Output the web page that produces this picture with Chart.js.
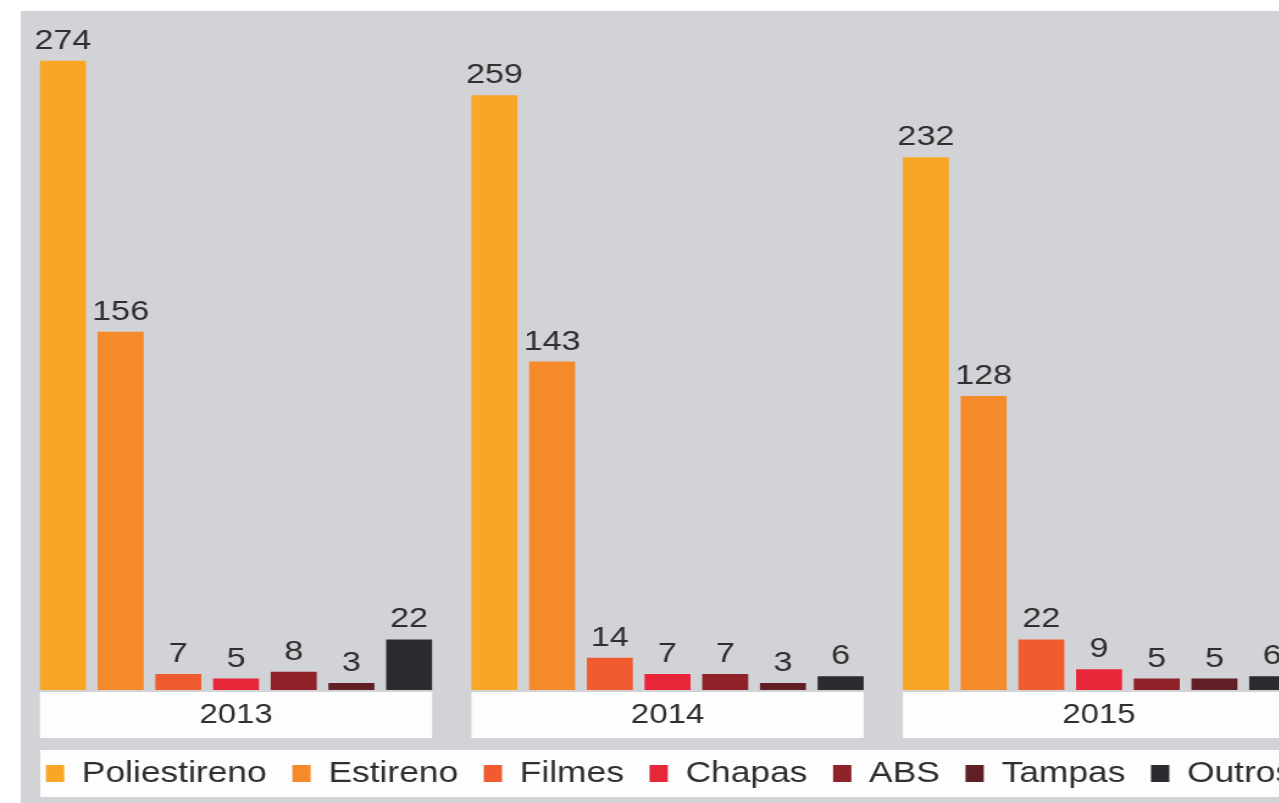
<!DOCTYPE html>
<html>
<head>
<meta charset="utf-8">
<script src="https://cdn.jsdelivr.net/npm/chart.js@4.4.1/dist/chart.umd.min.js"></script>
<style>
  html, body { margin: 0; padding: 0; background: #fff; overflow: hidden; }
  #wrap { width: 1279px; height: 803px; overflow: hidden; }
  /* the source picture is stretched sideways, so is the canvas */
  #chart { display: block; transform: scaleX(1.22); transform-origin: 0 0; }
</style>
</head>
<body>
<div id="wrap"><canvas id="chart" width="1140" height="803"></canvas></div>
<script>
const categories = ["2013", "2014", "2015"];
const seriesNames = ["Poliestireno", "Estireno", "Filmes", "Chapas", "ABS", "Tampas", "Outros"];

// values per year
const poliestireno = [274, 259, 232];
const estireno = [156, 143, 128];
const filmes = [7, 14, 22];
const chapas = [5, 7, 9];
const abs = [8, 7, 5];
const tampas = [3, 3, 5];
const outros = [22, 6, 6];

const seriesValues = [poliestireno, estireno, filmes, chapas, abs, tampas, outros];

const seriesColors = ["#f9a526", "#f58a2b", "#f05c2f", "#e8263a", "#8f2128", "#5f1f25", "#2d2a2f"];

const textColor = "#2f2f2f";
const fontFamily = "'Liberation Sans', Arial, sans-serif";

// Backdrop, year boxes and value labels
const decorations = {
    id: "decorations",
    beforeDraw(chart) {
        const { ctx, width, height, chartArea, legend } = chart;
        ctx.save();
        ctx.fillStyle = "#ffffff";
        ctx.fillRect(0, 0, width, height);
        ctx.fillStyle = "#d1d3d6";
        ctx.fillRect(17, 11, width - 17, height - 11);

        // legend strip
        ctx.fillStyle = "#fdfdfd";
        ctx.fillRect(33, legend.top + 12, width - 33, legend.bottom - legend.top - 13);

        // white box under every year group
        const first = chart.getDatasetMeta(0).data;
        const last = chart.getDatasetMeta(chart.data.datasets.length - 1).data;
        first.forEach((bar, i) => {
            const left = bar.x - bar.width / 2;
            const right = last[i].x + last[i].width / 2;
            ctx.fillRect(left, chartArea.bottom + 2, right - left, 46);
        });
        ctx.restore();
    },
    afterDatasetsDraw(chart) {
        const { ctx } = chart;
        ctx.save();
        ctx.fillStyle = textColor;
        ctx.font = "28px " + fontFamily;
        ctx.textAlign = "center";
        ctx.textBaseline = "alphabetic";
        chart.data.datasets.forEach((ds, d) => {
            chart.getDatasetMeta(d).data.forEach((bar, i) => {
                ctx.fillText(String(ds.data[i]), bar.x, bar.y - 12);
            });
        });
        ctx.restore();
    },
};

let myChart = new Chart(document.getElementById("chart"), {
    type: "bar",
    plugins: [decorations],
    data: {
        labels: categories,
        datasets: seriesNames.map((name, i) => ({
            label: name,
            data: seriesValues[i],
            backgroundColor: seriesColors[i],
            borderWidth: 0,
            categoryPercentage: 0.936,
            barPercentage: 0.797,
        })),
    },
    options: {
        responsive: false,
        animation: false,
        layout: {
            padding: { left: 16.6, right: 6, top: 24, bottom: 5 },
        },
        scales: {
            x: {
                grid: { display: false, drawTicks: false },
                border: { display: false },
                ticks: {
                    color: textColor,
                    font: { family: fontFamily, size: 27 },
                    padding: 9,
                },
                afterFit: (scale) => {
                    scale.height = 48;
                },
            },
            y: {
                position: "right",
                min: 0,
                max: 290,
                grid: { display: false, drawTicks: false },
                border: { display: false },
                ticks: { display: false },
                // empty strip past the cut-off right edge
                afterFit: (scale) => {
                    scale.width = 56.3;
                },
            },
        },
        plugins: {
            tooltip: { enabled: false },
            legend: {
                position: "bottom",
                align: "start",
                labels: {
                    color: textColor,
                    font: { family: fontFamily, size: 29 },
                    boxWidth: 15,
                    boxHeight: 17,
                    padding: 21,
                },
            },
        },
    },
});
</script>
</body>
</html>
